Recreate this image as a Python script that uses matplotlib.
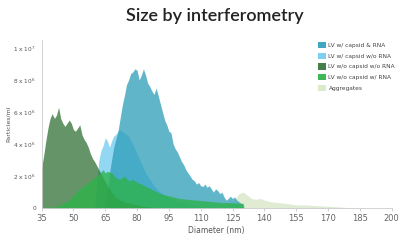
import matplotlib
matplotlib.use("Agg")
import matplotlib.pyplot as plt
from matplotlib.patches import Patch

# ---- data (particles/ml in units of 1e6) ----
teal_x = [64, 66, 67, 68, 69, 70, 71, 72, 73, 74, 75, 76, 77, 78, 79, 80, 81, 82, 83, 84,
          85, 86, 87, 88, 89, 90, 91, 92, 93, 94, 95, 96, 97, 98, 99, 100, 101, 102, 103, 104,
          105, 106, 107, 108, 109, 110, 111, 112, 113, 114, 115, 116, 117, 118, 119, 120, 121, 122, 123, 124,
          125, 126, 127, 128, 129, 129.5, 130]
teal_y = [0, 1.0, 2.2, 3.0, 3.8, 4.3, 4.8, 5.6, 6.4, 7.0, 7.7, 8.0, 8.4, 8.5, 8.7, 8.6, 8.0, 8.3, 8.7, 8.3,
          7.8, 7.6, 7.3, 7.1, 7.5, 7.0, 6.5, 6.0, 5.5, 5.2, 4.8, 4.7, 4.0, 3.7, 3.5, 3.2, 2.9, 2.7, 2.4, 2.2,
          2.0, 1.8, 1.7, 1.5, 1.6, 1.4, 1.35, 1.5, 1.3, 1.4, 1.2, 1.0, 1.2, 1.1, 0.9, 1.0, 0.7, 0.5, 0.6, 0.75,
          0.6, 0.7, 0.5, 0.4, 0.3, 0.3, 0]

lblue_x = [60, 61, 62, 63, 64, 65, 66, 67, 68, 69, 70, 71, 72, 74, 76, 78, 80, 82, 84, 86,
           88, 90, 93, 96, 100, 105, 110, 115]
lblue_y = [0, 1.5, 3.0, 3.6, 3.9, 4.4, 4.2, 3.8, 4.2, 4.5, 4.6, 4.8, 4.9, 4.7, 4.5, 4.0, 3.4, 2.8, 2.2, 1.8,
           1.4, 1.1, 0.8, 0.6, 0.4, 0.2, 0.1, 0]

dgreen_x = [35, 36, 37, 38, 39, 40, 41, 42, 43, 44, 45, 46, 47, 48, 49, 50, 51, 52, 53, 54,
            55, 56, 57, 58, 59, 60, 62, 64, 66, 68, 70, 72, 74, 77, 80, 84, 88, 92]
dgreen_y = [2.5, 3.3, 4.2, 5.0, 5.6, 5.9, 5.6, 5.8, 6.3, 5.6, 5.3, 5.1, 5.3, 5.5, 5.3, 4.9, 4.8, 5.0, 5.2, 4.6,
            4.3, 4.1, 3.8, 3.4, 3.1, 2.9, 2.4, 1.9, 1.4, 1.0, 0.7, 0.5, 0.4, 0.3, 0.2, 0.1, 0.05, 0]

bgreen_x = [35, 40, 42, 45, 48, 50, 52, 54, 56, 58, 60, 62, 64, 65, 66, 68, 70, 72, 74, 76,
            78, 80, 82, 85, 88, 91, 94, 97, 100, 104, 108, 112, 116, 120, 124, 128, 130, 130.5]
bgreen_y = [0.05, 0.08, 0.1, 0.3, 0.5, 0.8, 1.1, 1.3, 1.5, 1.7, 1.9, 2.1, 2.4, 2.2, 2.3, 2.2, 1.9, 1.8, 2.0, 1.7,
            1.8, 1.6, 1.5, 1.3, 1.1, 0.9, 0.8, 0.7, 0.6, 0.55, 0.5, 0.45, 0.4, 0.35, 0.35, 0.3, 0.3, 0]

aggr_x = [120, 125, 128, 130, 132, 134, 136, 138, 140, 143, 146, 150, 155, 160, 165, 170, 175, 178, 180]
aggr_y = [0, 0.3, 0.9, 1.0, 0.8, 0.6, 0.55, 0.6, 0.5, 0.4, 0.35, 0.3, 0.2, 0.2, 0.15, 0.12, 0.08, 0.05, 0]

labels = ["LV w/ capsid & RNA", "LV w/ capsid w/o RNA", "LV w/o capsid w/o RNA",
          "LV w/o capsid w/ RNA", "Aggregates"]
xticks = [35, 50, 65, 80, 95, 110, 125, 140, 155, 170, 185, 200]
yticks = [0, 2, 4, 6, 8, 10]
ytick_labels = ["0", r"2 x 10$^6$", r"4 x 10$^6$", r"6 x 10$^6$", r"8 x 10$^6$", r"1 x 10$^7$"]

colors = ["#2c9db8", "#6fcbee", "#2a6b2e", "#2db34a", "#dde9cf"]
alphas = [0.75, 0.75, 0.72, 0.78, 0.9]

fig = plt.figure(figsize=(4.0, 2.42), dpi=100)
ax = fig.add_axes([0.104, 0.14, 0.875, 0.695])

series = [(aggr_x, aggr_y, 4), (lblue_x, lblue_y, 1), (teal_x, teal_y, 0),
          (dgreen_x, dgreen_y, 2), (bgreen_x, bgreen_y, 3)]
for xs, ys, i in series:
    assert len(xs) == len(ys)
    ax.fill_between(xs, [v * 1e6 for v in ys], 0, color=colors[i], alpha=alphas[i], lw=0)

ax.set_xlim(35, 200)
ax.set_ylim(0, 1.05e7)
ax.set_xticks(xticks)
ax.set_xticklabels([str(t) for t in xticks], fontsize=6, color="#666666")
ax.set_yticks([t * 1e6 for t in yticks])
ax.set_yticklabels(ytick_labels, fontsize=4.2, color="#555555")
ax.tick_params(axis="x", length=2.5, width=0.5, color="#bbbbbb", pad=2)
ax.tick_params(axis="y", length=0, pad=4)
for s in ["top", "right"]:
    ax.spines[s].set_visible(False)
ax.spines["left"].set_color("#cccccc")
ax.spines["left"].set_linewidth(0.6)
ax.spines["bottom"].set_color("#cccccc")
ax.spines["bottom"].set_linewidth(0.6)
ax.set_xlabel("Diameter (nm)", fontsize=5.5, color="#555555", labelpad=2)
ax.set_ylabel("Particles/ml", fontsize=4.5, color="#555555")
ax.yaxis.set_label_coords(-0.087, 0.5)

handles = [Patch(facecolor=colors[i], alpha=min(1, alphas[i] + 0.15), edgecolor="none") for i in range(5)]
ax.legend(handles, labels, loc="upper right", bbox_to_anchor=(1.025, 1.02), fontsize=4.2,
          frameon=False, handlelength=1.3, handleheight=1.3, handletextpad=0.5,
          labelspacing=0.75, labelcolor="#444444")

fig.text(0.537, 0.965, "Size by interferometry", ha="center", va="top",
         fontsize=13, color="#222222", family="Lato", weight="semibold")

fig.savefig("out.png", dpi=100)
